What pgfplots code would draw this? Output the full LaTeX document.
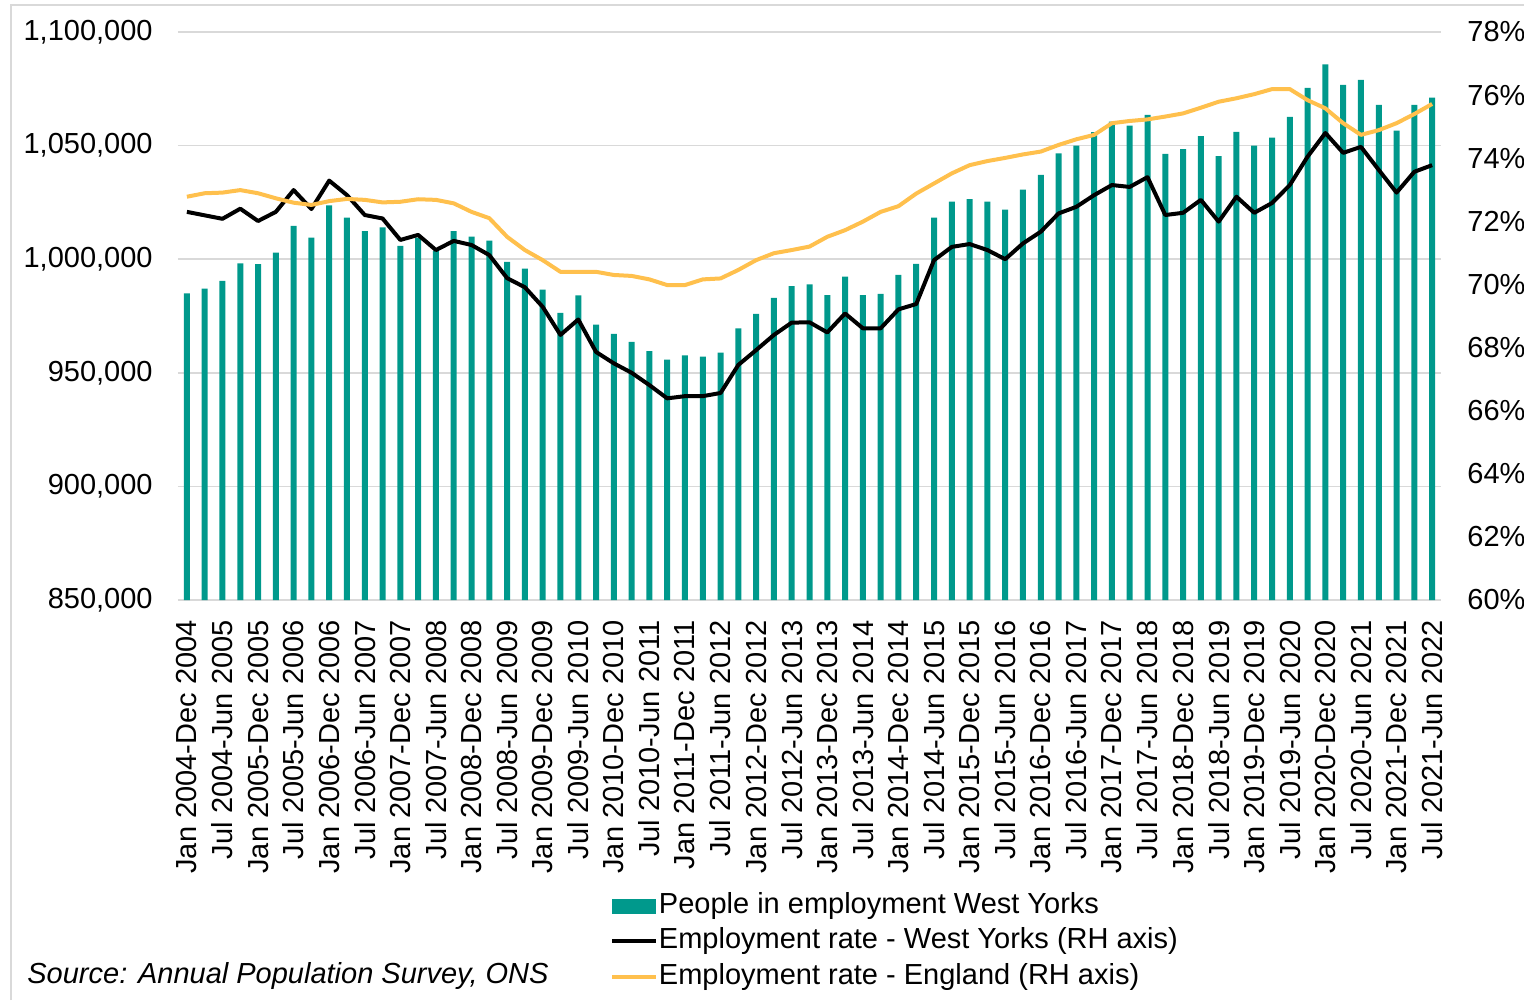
\documentclass[border=0pt]{standalone}
\usepackage{pgfplots}
\usepackage{pgfplotstable}
\usepackage{fontspec}
\pgfplotsset{compat=1.18}
\setmainfont{Liberation Sans}

\definecolor{barteal}{RGB}{0,153,140}
\definecolor{engorange}{RGB}{255,192,77}
\definecolor{gridgray}{RGB}{217,217,217}

% quarterly rolling-year estimates, i = 0 is Jan 2004-Dec 2004
\pgfplotstableread{
i  people  wy     eng
0  985000  72.30  72.78
1  987000  72.19  72.89
2  990500  72.08  72.91
3  998200  72.40  72.99
4  997800  72.01  72.89
5  1002900 72.30  72.73
6  1014700 72.99  72.59
7  1009500 72.39  72.52
8  1023700 73.29  72.64
9  1018300 72.83  72.71
10 1012400 72.20  72.68
11 1014000 72.09  72.60
12 1005900 71.41  72.62
13 1009500 71.57  72.70
14 1003700 71.09  72.68
15 1012400 71.38  72.57
16 1009900 71.25  72.30
17 1008200 70.93  72.10
18 998800  70.20  71.51
19 995800  69.91  71.09
20 986600  69.29  70.77
21 976400  68.40  70.40
22 984100  68.89  70.40
23 971200  67.86  70.40
24 967100  67.50  70.30
25 963600  67.20  70.27
26 959500  66.81  70.16
27 955800  66.39  69.98
28 957700  66.46  69.98
29 957100  66.46  70.16
30 958900  66.56  70.19
31 969600  67.45  70.46
32 975900  67.92  70.77
33 983000  68.40  70.99
34 988200  68.79  71.09
35 988900  68.80  71.20
36 984200  68.48  71.51
37 992300  69.08  71.72
38 984200  68.61  71.99
39 984700  68.61  72.30
40 993100  69.21  72.48
41 997900  69.38  72.88
42 1018300 70.77  73.20
43 1025300 71.19  73.52
44 1026400 71.28  73.78
45 1025300 71.09  73.91
46 1021800 70.80  74.01
47 1030600 71.30  74.12
48 1037100 71.67  74.21
49 1046600 72.25  74.42
50 1050000 72.46  74.60
51 1055900 72.83  74.74
52 1060500 73.15  75.11
53 1058800 73.09  75.18
54 1063500 73.40  75.23
55 1046400 72.20  75.32
56 1048500 72.27  75.42
57 1054200 72.68  75.60
58 1045400 71.99  75.79
59 1056000 72.78  75.90
60 1050000 72.27  76.03
61 1053500 72.58  76.19
62 1062600 73.15  76.19
63 1075400 74.05  75.84
64 1085800 74.80  75.58
65 1076700 74.17  75.11
66 1078900 74.36  74.74
67 1067900 73.63  74.89
68 1056600 72.91  75.11
69 1067900 73.57  75.40
70 1071100 73.78  75.72
}\emptable

\begin{document}
\fontsize{14.5}{17.4}\selectfont
\begin{tikzpicture}
\path[use as bounding box] (-89pt,-200pt) rectangle (673pt,300pt);
\draw[gridgray, line width=1pt] (-83.5pt,-200pt) -- (-83.5pt,297.5pt) -- (673pt,297.5pt);

\begin{axis}[
    at={(0,0)}, anchor=south west,
    scale only axis,
    width=631.5pt, height=284pt,
    xmin=-0.5, xmax=70.5,
    ymin=850000, ymax=1100000,
    axis lines=left,
    axis line style={draw=none},
    major tick length=0pt,
    ytick={850000,900000,...,1100000},
    scaled y ticks=false,
    yticklabel style={/pgf/number format/fixed, /pgf/number format/1000 sep={,},
      /pgf/number format/assume math mode=true,
      anchor=east, inner sep=0pt, xshift=-12.5pt},
    ymajorgrids=true,
    grid style={gridgray, line width=0.8pt},
    xtick={0,2,...,70},
    xticklabels={Jan 2004-Dec 2004, Jul 2004-Jun 2005, Jan 2005-Dec 2005, Jul 2005-Jun 2006,
      Jan 2006-Dec 2006, Jul 2006-Jun 2007, Jan 2007-Dec 2007, Jul 2007-Jun 2008,
      Jan 2008-Dec 2008, Jul 2008-Jun 2009, Jan 2009-Dec 2009, Jul 2009-Jun 2010,
      Jan 2010-Dec 2010, Jul 2010-Jun 2011, Jan 2011-Dec 2011, Jul 2011-Jun 2012,
      Jan 2012-Dec 2012, Jul 2012-Jun 2013, Jan 2013-Dec 2013, Jul 2013-Jun 2014,
      Jan 2014-Dec 2014, Jul 2014-Jun 2015, Jan 2015-Dec 2015, Jul 2015-Jun 2016,
      Jan 2016-Dec 2016, Jul 2016-Jun 2017, Jan 2017-Dec 2017, Jul 2017-Jun 2018,
      Jan 2018-Dec 2018, Jul 2018-Jun 2019, Jan 2019-Dec 2019, Jul 2019-Jun 2020,
      Jan 2020-Dec 2020, Jul 2020-Jun 2021, Jan 2021-Dec 2021, Jul 2021-Jun 2022},
    xticklabel style={rotate=90, anchor=east, inner sep=0pt, xshift=-10pt},
    ybar, bar width=3pt,
]
\addplot[draw=none, fill=barteal] table[x=i, y=people] {\emptable};
\end{axis}

\begin{axis}[
    at={(0,0)}, anchor=south west,
    scale only axis,
    width=631.5pt, height=284pt,
    xmin=-0.5, xmax=70.5,
    ymin=60, ymax=78,
    axis x line=none,
    axis y line*=right,
    axis line style={draw=none},
    major tick length=0pt,
    ytick={60,62,...,78},
    yticklabel={\pgfmathprintnumber{\tick}\%},
    yticklabel style={/pgf/number format/assume math mode=true, anchor=west, inner sep=0pt, xshift=13pt},
    legend style={at={(axis description cs:0.342,-0.507)}, anchor=north west,
      draw=none, fill=none, inner sep=0pt, row sep=0pt,
      nodes={inner xsep=0.3pt, inner ysep=1.1pt, text height=11.5pt, text depth=4pt}},
    legend cell align=left,
    legend image code/.code={\draw[#1] (0pt,0pt) -- (22pt,0pt);},
]
\addlegendimage{legend image code/.code={\fill[barteal] (0pt,-3.5pt) rectangle (21.5pt,3.5pt);}}
\addlegendentry{People in employment West Yorks}
\addplot[black, line width=2pt, line join=round] table[x=i, y=wy] {\emptable};
\addlegendentry{Employment rate - West Yorks (RH axis)}
\addplot[engorange, line width=2pt, line join=round] table[x=i, y=eng] {\emptable};
\addlegendentry{Employment rate - England (RH axis)}
\end{axis}

\node[anchor=west, inner sep=0pt, font=\itshape] at (-75.5pt,-188pt) {Source: Annual Population Survey, ONS};
\end{tikzpicture}
\end{document}
